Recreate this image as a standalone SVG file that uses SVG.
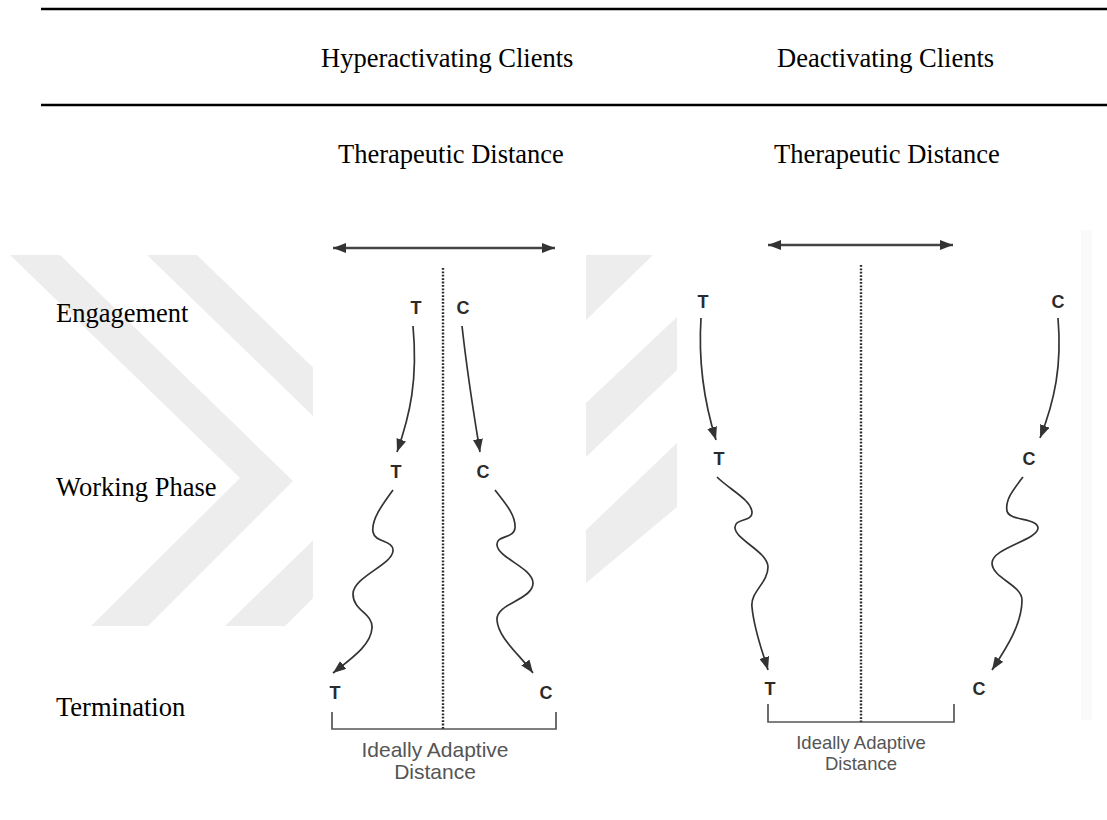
<svg xmlns="http://www.w3.org/2000/svg" width="1107" height="820" viewBox="0 0 1107 820">
<defs>
<style>
.hdr{font-family:"Liberation Serif","Times New Roman",serif;font-size:26.5px;fill:#000}
.lbl{font-family:"Liberation Sans",Arial,sans-serif;font-weight:bold;font-size:18px;fill:#2b2b2b;text-anchor:middle}
.cap{font-family:"Liberation Sans",Arial,sans-serif;fill:#555;text-anchor:middle}
.wm{fill:#ededed}
.rule{stroke:#000;stroke-width:2.5}
.dot{stroke:#2a2a2a;stroke-width:2.4;stroke-dasharray:1.8 1.6;fill:none}
.curve{stroke:#333;stroke-width:1.7;fill:none;marker-end:url(#ah)}
.dbl{stroke:#444;stroke-width:2.4;fill:none;marker-start:url(#ahs);marker-end:url(#ah)}
.brk{stroke:#555;stroke-width:1.7;fill:none}
</style>
<marker id="ah" viewBox="0 0 13 10" refX="13" refY="5" markerWidth="13" markerHeight="10" markerUnits="userSpaceOnUse" orient="auto"><path d="M0,0 L13,5 L0,10 z" fill="#333"/></marker>
<marker id="ahs" viewBox="0 0 13 10" refX="0" refY="5" markerWidth="13" markerHeight="10" markerUnits="userSpaceOnUse" orient="auto"><path d="M13,0 L0,5 L13,10 z" fill="#333"/></marker>
</defs>
<rect width="1107" height="820" fill="#fff"/>
<g id="watermark">
<polygon class="wm" points="10,255 60,255 293,481 148,626 91,626 240,478"/>
<polygon class="wm" points="147,255 197,255 430,481 285,626 225,626 377,478"/>
<polygon class="wm" points="586,255 653,255 586,320"/>
<polygon class="wm" points="586,403 677,317 677,370 586,457"/>
<polygon class="wm" points="586,530 677,443 677,507 586,583"/>
</g>
<rect x="313" y="235" width="273" height="565" fill="#fff"/>
<rect x="677" y="225" width="410" height="575" fill="#fff"/>
<rect x="1081" y="230" width="11" height="490" fill="#fafafa"/>
<g id="table">
<line class="rule" x1="41" y1="9" x2="1107" y2="9"/>
<line class="rule" x1="41" y1="105" x2="1107" y2="105"/>
<text class="hdr" x="321" y="67">Hyperactivating Clients</text>
<text class="hdr" x="777" y="67">Deactivating Clients</text>
<text class="hdr" x="338" y="163">Therapeutic Distance</text>
<text class="hdr" x="774" y="163">Therapeutic Distance</text>
<text class="hdr" x="56" y="322">Engagement</text>
<text class="hdr" x="56" y="496">Working Phase</text>
<text class="hdr" x="56" y="716">Termination</text>
</g>
<g id="left-panel">
<text class="lbl" x="416" y="314">T</text>
<text class="lbl" x="463" y="314">C</text>
<text class="lbl" x="396" y="478">T</text>
<text class="lbl" x="483" y="478">C</text>
<text class="lbl" x="335" y="699">T</text>
<text class="lbl" x="546" y="699">C</text>
<path class="brk" d="M332,712 V729 H556 V712"/>
<text class="cap" x="435" y="757" font-size="21">Ideally Adaptive</text>
<text class="cap" x="435" y="779" font-size="21">Distance</text>
</g>
<g id="right-panel">
<text class="lbl" x="703" y="308">T</text>
<text class="lbl" x="1058" y="308">C</text>
<text class="lbl" x="719" y="465">T</text>
<text class="lbl" x="1029" y="465">C</text>
<text class="lbl" x="770" y="695">T</text>
<text class="lbl" x="979" y="695">C</text>
<path class="brk" d="M768,704 V722 H954 V704"/>
<text class="cap" x="861" y="749" font-size="18.5">Ideally Adaptive</text>
<text class="cap" x="861" y="770" font-size="18.5">Distance</text>
</g>
<g id="connectors">
<line class="dbl" x1="333" y1="248" x2="555" y2="248"/>
<line class="dot" x1="443" y1="268" x2="443" y2="729"/>
<path class="curve" d="M413,326 C418,380 410,415 397,452"/>
<path class="curve" d="M462,326 C468,380 474,415 480,452"/>
<path class="curve" d="M393,490 C382,505 371,520 373,532 C375,543 394,540 393,551 C392,565 353,577 353,594 C353,611 373,613 372,628 C371,645 352,658 333,673"/>
<path class="curve" d="M495,490 C505,503 516,515 515,528 C514,539 496,535 497,545 C498,558 533,568 533,583 C533,600 496,603 497,620 C498,638 520,655 533,673"/>
<line class="dbl" x1="768" y1="245" x2="953" y2="245"/>
<line class="dot" x1="861" y1="265" x2="861" y2="722"/>
<path class="curve" d="M701,318 C698,365 705,405 716,440"/>
<path class="curve" d="M1058,318 C1062,365 1055,400 1040,438"/>
<path class="curve" d="M717,477 C730,490 752,500 752,513 C752,522 734,518 735,528 C736,540 768,552 768,567 C768,583 750,592 752,607 C754,630 762,650 768,670"/>
<path class="curve" d="M1023,477 C1013,490 1005,500 1007,511 C1009,521 1038,518 1038,528 C1038,540 992,548 992,563 C992,578 1022,585 1022,600 C1022,625 1005,650 992,670"/>
</g>
</svg>
